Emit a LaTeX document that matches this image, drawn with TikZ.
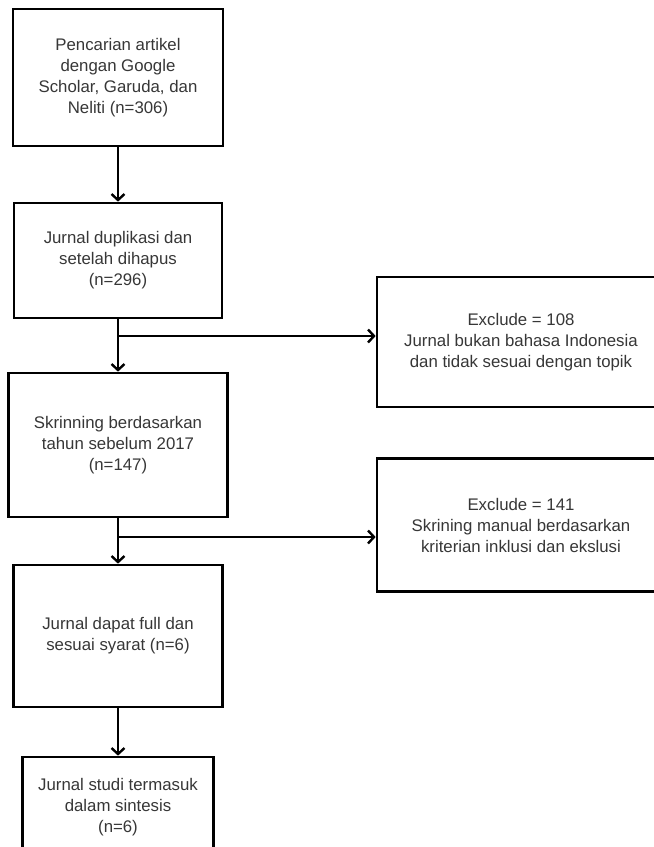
\documentclass[tikz,border=0pt]{standalone}
\usepackage{fontspec}
\setmainfont{Liberation Sans}
\usetikzlibrary{arrows.meta}
\definecolor{txt}{RGB}{55,55,55}
\begin{document}
\begin{tikzpicture}[x=1pt,y=-1pt,
  box/.style={draw=black, line width=2.7pt, align=center, text=txt,
    font=\fontsize{16.8}{21}\selectfont, inner sep=0pt},
  arr/.style={line width=2.7pt, -{Straight Barb[length=6pt,width=13pt,line width=2.4pt]}}]
\useasboundingbox (0,0) rectangle (654,847);
\fill[white] (0,0) rectangle (654,847);
\clip (0,0) rectangle (654,847);
\node[box, minimum width=210pt, minimum height=137pt] (b1) at (118,77.5)
  {Pencarian artikel\\dengan Google\\Scholar, Garuda, dan\\Neliti (n=306)};
\node[box, minimum width=208pt, minimum height=115pt] (b2) at (118,260.5)
  {Jurnal duplikasi dan\\setelah dihapus\\(n=296)};
\node[box, minimum width=219pt, minimum height=144pt] (b3) at (118,445)
  {Skrinning berdasarkan\\tahun sebelum 2017\\(n=147)};
\node[box, minimum width=209pt, minimum height=142pt] (b4) at (118,636)
  {Jurnal dapat full dan\\sesuai syarat (n=6)};
\node[box, minimum width=191pt, minimum height=100pt] (b5) at (118,807)
  {Jurnal studi termasuk\\dalam sintesis\\(n=6)};
\node[box, minimum width=288pt, minimum height=130pt] (r1) at (521,342)
  {Exclude = 108\\Jurnal bukan bahasa Indonesia\\dan tidak sesuai dengan topik};
\node[box, minimum width=288pt, minimum height=133pt] (r2) at (521,525)
  {Exclude = 141\\Skrining manual berdasarkan\\kriterian inklusi dan ekslusi};
\coordinate (j1) at (118,336);
\coordinate (j2) at (118,537);
\draw[arr] (b1.south) -- (b2.north);
\draw[arr] (b2.south) -- (b3.north);
\draw[arr] (j1) -- (r1.west |- j1);
\draw[arr] (b3.south) -- (b4.north);
\draw[arr] (j2) -- (r2.west |- j2);
\draw[arr] (b4.south) -- (b5.north);
\end{tikzpicture}
\end{document}
